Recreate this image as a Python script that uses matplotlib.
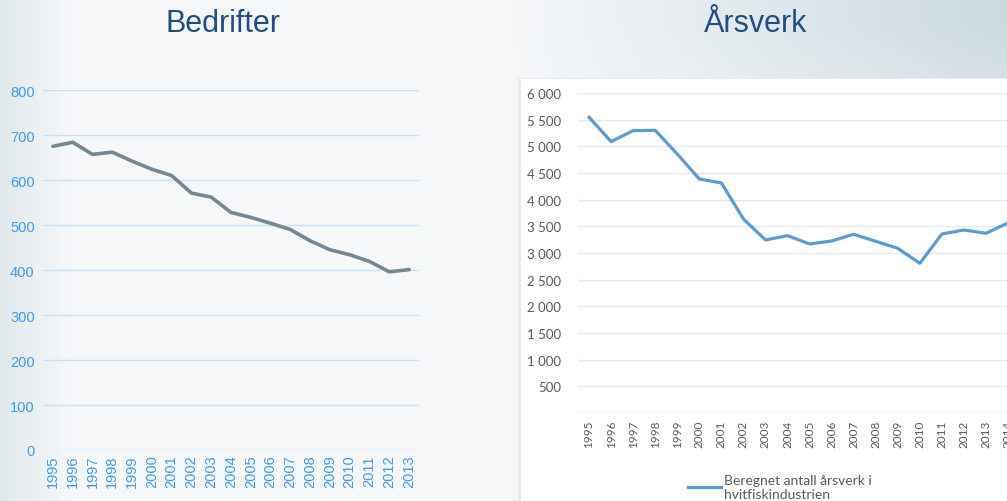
import matplotlib
matplotlib.use("Agg")
import matplotlib.pyplot as plt
import numpy as np
from matplotlib.patches import Rectangle

# data
aar_bedrifter = list(range(1995, 2014))
bedrifter = [675, 684, 657, 662, 642, 624, 610, 571, 562, 528,
             517, 504, 490, 465, 445, 434, 419, 396, 401]

aar_aarsverk = list(range(1995, 2015))
aarsverk = [5544, 5088, 5294, 5300, 4856, 4388, 4313, 3638, 3244, 3325,
            3169, 3225, 3350, 3219, 3088, 2806, 3356, 3431, 3369, 3563]

bedrifter_ticks = [0, 100, 200, 300, 400, 500, 600, 700, 800]
aarsverk_ticks = [500, 1000, 1500, 2000, 2500, 3000, 3500, 4000, 4500, 5000, 5500, 6000]

fig = plt.figure(figsize=(10.07, 5.02), dpi=100)

# slide background: pale, with a blue-grey tint towards the top right
bg = fig.add_axes([0, 0, 1, 1], zorder=-10)
gx, gy = np.meshgrid(np.linspace(0, 1, 400), np.linspace(0, 1, 200))
tint = np.clip((gx - 0.5) * 1.8, 0, 1) * np.clip((gy - 0.45) * 2.0, 0, 1)
tint = tint + 0.45 * np.clip(0.07 - gx, 0, 1) / 0.07
tint = np.clip(tint, 0, 1)
lys = np.array([0.965, 0.972, 0.978])
mork = np.array([0.78, 0.84, 0.87])
img = lys[None, None, :] * (1 - tint[..., None]) + mork[None, None, :] * tint[..., None]
bg.imshow(img, extent=(0, 1, 0, 1), origin="lower", aspect="auto")
bg.set_axis_off()

tittel_farge = "#1f4f82"
fig.text(0.221, 0.953, "Bedrifter", ha="center", va="center",
         fontsize=22, color=tittel_farge, family="Liberation Sans")
fig.text(0.750, 0.953, "Årsverk", ha="center", va="center",
         fontsize=22, color=tittel_farge, family="Liberation Sans")

# --- venstre: Bedrifter ---
blaa = "#3d9bf0"
ax1 = fig.add_axes([0.0427, 0.1016, 0.3734, 0.717])
ax1.patch.set_alpha(0)
ax1.plot(aar_bedrifter, bedrifter, color="#728894", lw=2.6, solid_capstyle="round", zorder=3)
ax1.set_xlim(aar_bedrifter[0] - 0.5, aar_bedrifter[-1] + 0.5)
ax1.set_ylim(0, 800)
ax1.set_yticks(bedrifter_ticks)
ax1.set_xticks(aar_bedrifter)
ax1.set_xticklabels([str(a) for a in aar_bedrifter], rotation=90)
ax1.grid(axis="y", color="#c6e2fa", lw=1)
ax1.set_axisbelow(True)
for s in ax1.spines.values():
    s.set_visible(False)
ax1.tick_params(length=0, colors=blaa, labelsize=10.5, pad=6)
ax1.tick_params(axis="x", pad=3)
for lab in ax1.get_xticklabels() + ax1.get_yticklabels():
    lab.set_family("Liberation Sans")

# --- høyre: Årsverk (hvitt panel) ---
fig.patches.append(Rectangle((0.5145, 0), 0.49, 0.842, transform=fig.transFigure,
                             facecolor="#e6ebee", edgecolor="none", zorder=-5))
fig.patches.append(Rectangle((0.5175, 0), 0.49, 0.84, transform=fig.transFigure,
                             facecolor="white", edgecolor="none", zorder=-4))

graa = "#595959"
ax2 = fig.add_axes([0.574, 0.1753, 0.438, 0.6375])
ax2.patch.set_alpha(0)
ax2.plot(aar_aarsverk, aarsverk, color="#5b9bd5", lw=2.3, zorder=3,
         label="Beregnet antall årsverk i\nhvitfiskindustrien")
ax2.set_xlim(aar_aarsverk[0] - 0.5, aar_aarsverk[-1] + 0.5)
ax2.set_ylim(0, 6000)
ax2.set_yticks(aarsverk_ticks)
ax2.set_yticklabels([f"{v:,}".replace(",", " ") for v in aarsverk_ticks])
ax2.set_xticks(aar_aarsverk)
ax2.set_xticklabels([str(a) for a in aar_aarsverk], rotation=90)
ax2.grid(axis="y", color="#e8e8e8", lw=1)
ax2.set_axisbelow(True)
for s in ax2.spines.values():
    s.set_visible(False)
ax2.axhline(0, color="#d0d0d0", lw=1)
ax2.tick_params(length=0, colors=graa, labelsize=9.5, pad=12)
ax2.tick_params(axis="x", labelsize=8.5, pad=5)
for lab in ax2.get_xticklabels() + ax2.get_yticklabels():
    lab.set_family("Lato")
leg = ax2.legend(loc="upper left", bbox_to_anchor=(0.22, -0.15), frameon=False,
                 handlelength=2.4, handletextpad=0.2, labelspacing=0.2,
                 prop={"family": "Lato", "size": 10})
for t in leg.get_texts():
    t.set_color(graa)

fig.savefig("out.png", dpi=100)
